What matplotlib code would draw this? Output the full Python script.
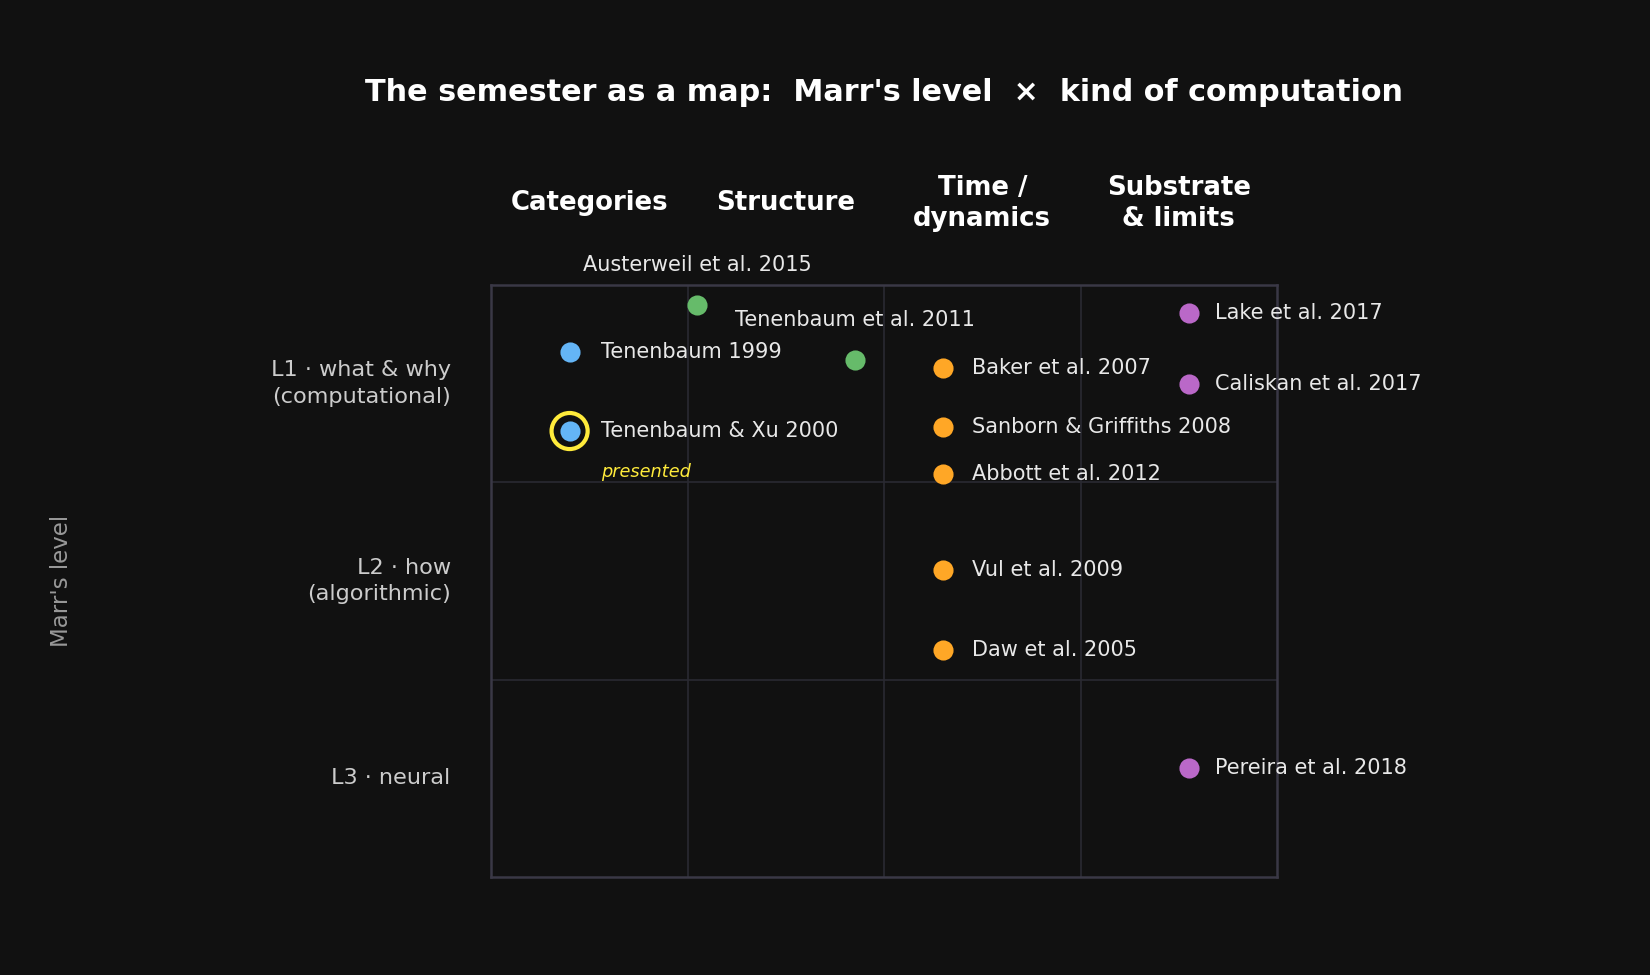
import matplotlib
matplotlib.use('Agg')
import matplotlib.pyplot as plt

# columns = kind of computation, rows = Marr's level (L1 on top)
columns = ['Categories', 'Structure', 'Time /\ndynamics', 'Substrate\n& limits']
levels = ['L1 · what & why\n(computational)', 'L2 · how\n(algorithmic)', 'L3 · neural']

papers = ['Tenenbaum 1999', 'Tenenbaum & Xu 2000', 'Austerweil et al. 2015', 'Tenenbaum et al. 2011',
          'Baker et al. 2007', 'Sanborn & Griffiths 2008', 'Abbott et al. 2012', 'Vul et al. 2009',
          'Daw et al. 2005', 'Lake et al. 2017', 'Caliskan et al. 2017', 'Pereira et al. 2018']
px = [0.40, 0.40, 1.05, 1.85, 2.30, 2.30, 2.30, 2.30, 2.30, 3.55, 3.55, 3.55]
py = [2.66, 2.26, 2.90, 2.62, 2.58, 2.28, 2.04, 1.555, 1.15, 2.86, 2.50, 0.55]
kind = ['cat', 'cat', 'str', 'str', 'time', 'time', 'time', 'time', 'time', 'sub', 'sub', 'sub']
label_above = [False, False, True, True, False, False, False, False, False, False, False, False]
presented = ['Tenenbaum & Xu 2000']

colors = {'cat': '#64b5f6', 'str': '#66bb6a', 'time': '#ffa726', 'sub': '#ba68c8'}
offsets = {'cat': 15, 'str': 15, 'time': 14, 'sub': 12.8}
bg = '#111111'

fig = plt.figure(figsize=(11, 6.5), dpi=150, facecolor=bg)
ax = fig.add_axes([491/1650, 98/975, 786/1650, 592/975])
ax.set_facecolor(bg)
ax.set_xlim(0, 4)
ax.set_ylim(0, 3)

for v in [1, 2, 3]:
    ax.axvline(v, color='#2a2a32', lw=0.8, zorder=0)
for h in [1, 2]:
    ax.axhline(h, color='#2a2a32', lw=0.8, zorder=0)
for s in ax.spines.values():
    s.set_color('#3a3846')
    s.set_linewidth(1.2)
ax.set_xticks([])
ax.set_yticks([])

for name, x, y, k, above in zip(papers, px, py, kind, label_above):
    ax.scatter(x, y, s=75, color=colors[k], zorder=3, clip_on=False)
    if name in presented:
        ax.scatter(x, y, s=300, facecolor='none', edgecolor='#ffeb3b', linewidth=2.0, zorder=2, clip_on=False)
        ax.annotate('presented', (x, y), xytext=(15, -19.5), textcoords='offset points',
                    ha='left', va='center', fontsize=8.5, style='italic', color='#ffeb3b')
    if above:
        ax.annotate(name, (x, y), xytext=(0, 19), textcoords='offset points',
                    ha='center', va='center', fontsize=10, color='#e8e8e8', annotation_clip=False)
    else:
        ax.annotate(name, (x, y), xytext=(offsets[k], 0), textcoords='offset points',
                    ha='left', va='center', fontsize=10, color='#e8e8e8', annotation_clip=False)

for i, c in enumerate(columns):
    ax.text(i + 0.5, 3.415, c, ha='center', va='center', fontsize=12.5, fontweight='bold',
            color='white', linespacing=1.25)

for j, lv in enumerate(levels):
    ax.text(-0.205, 2.5 - j, lv, ha='right', va='center', fontsize=10.75, color='#cccccc',
            linespacing=1.4)

fig.text(61/1650, (98 + 296)/975, "Marr's level",
         rotation=90, ha='center', va='center', fontsize=11, color='#999999')

fig.text(884/1650, 1 - 92.5/975, "The semester as a map:  Marr's level  ×  kind of computation",
         ha='center', va='center', fontsize=14.5, fontweight='bold', color='white')

fig.savefig('out.png', dpi=150, facecolor=bg)
